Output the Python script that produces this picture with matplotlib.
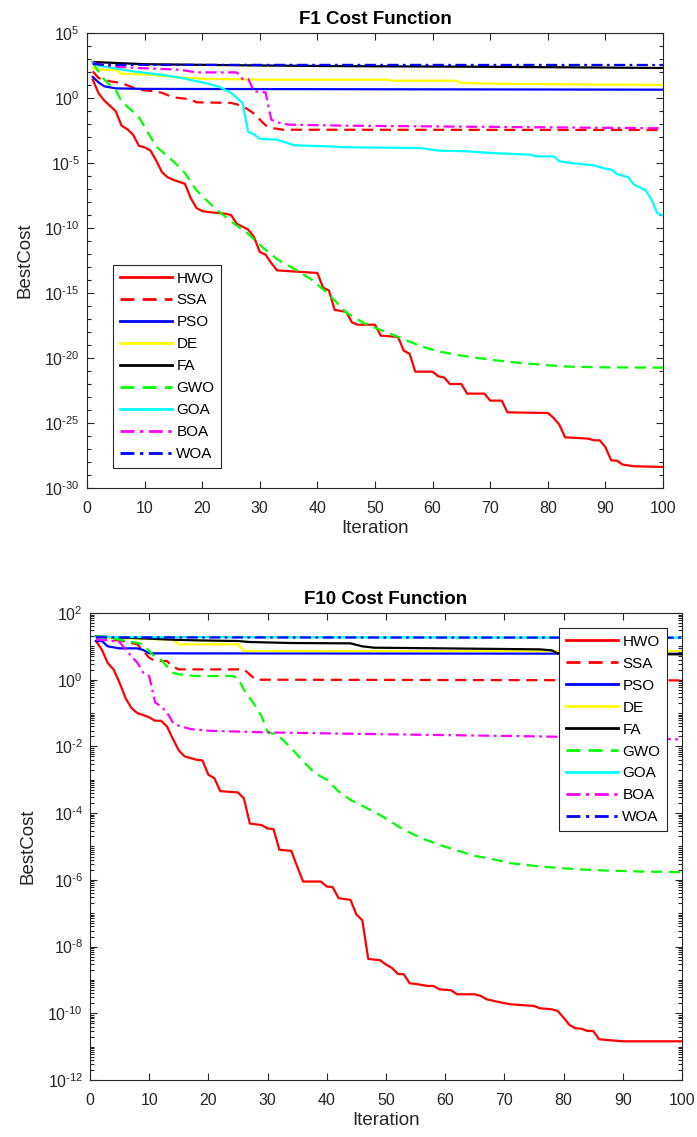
import numpy as np
import matplotlib
matplotlib.use("Agg")
import matplotlib.pyplot as plt
from matplotlib.ticker import FixedLocator, NullFormatter, MultipleLocator, FuncFormatter

plt.rcParams['font.family'] = ['Liberation Sans', 'DejaVu Sans']
plt.rcParams['axes.unicode_minus'] = False
plt.rcParams['mathtext.fontset'] = 'custom'
plt.rcParams['mathtext.rm'] = 'Liberation Sans'
plt.rcParams['mathtext.it'] = 'Liberation Sans'

algorithms = ["HWO", "SSA", "PSO", "DE", "FA", "GWO", "GOA", "BOA", "WOA"]

# ---------------- F1 data (iteration, log10 BestCost) ----------------
f1_hwo_it = [1, 2, 3, 4, 5, 6, 7, 8, 9, 10, 11, 12, 13, 14, 15, 16, 17, 18, 19, 20, 21, 24, 25, 26, 27, 28, 29, 30, 31, 32, 33,
             40, 41, 42, 43, 45, 46, 47, 50, 51, 54, 55, 56, 57, 60, 61, 62, 63, 65, 66, 69, 70, 72, 73, 80, 81, 82, 83,
             87, 88, 89, 90, 91, 92, 93, 95, 100]
f1_hwo_lg = [1.41, 0.38, -0.2, -0.6, -1.03, -2.13, -2.4, -2.82, -3.67, -3.8, -4.03, -4.8, -5.69, -6.1, -6.3, -6.45, -6.6,
             -7.69, -8.46, -8.7, -8.77, -8.9, -9.0, -9.67, -9.9, -10.13, -10.69, -11.85, -12.05, -12.7, -13.26,
             -13.46, -14.6, -14.8, -16.3, -16.45, -17.26, -17.44, -17.44, -18.28, -18.38, -19.44, -19.67, -21.05, -21.05,
             -21.41, -21.5, -22.0, -22.0, -22.74, -22.74, -23.28, -23.28, -24.18, -24.23, -24.6, -25.13, -26.1,
             -26.2, -26.33, -26.33, -26.85, -27.87, -27.9, -28.2, -28.33, -28.38]
f1_ssa_it = [1, 2, 4, 6, 8, 9, 12, 13, 15, 18, 19, 25, 27, 29, 31, 32, 34, 100]
f1_ssa_lg = [2.05, 1.54, 1.28, 1.15, 0.8, 0.64, 0.5, 0.4, 0.05, -0.1, -0.33, -0.38, -0.6, -1.2, -2.1, -2.3, -2.44, -2.46]
f1_pso_it = [1, 2, 3, 5, 10, 100]
f1_pso_lg = [1.62, 1.2, 0.9, 0.74, 0.7, 0.64]
f1_de_it = [1, 2, 5, 6, 11, 15, 20, 30, 52, 53, 64, 65, 70, 90, 100]
f1_de_lg = [2.3, 2.18, 2.15, 1.87, 1.79, 1.62, 1.48, 1.41, 1.41, 1.33, 1.33, 1.15, 1.1, 1.03, 1.01]
f1_fa_it = [1, 10, 30, 45, 70, 100]
f1_fa_lg = [2.77, 2.6, 2.5, 2.45, 2.4, 2.31]
f1_gwo_it = [1, 3, 5, 6, 9, 12, 15, 17, 19, 22, 25, 28, 30, 33, 36, 39, 42, 45, 48, 51, 54, 58, 61, 65, 70, 74, 80, 84, 90, 100]
f1_gwo_lg = [2.69, 1.41, 0.6, -0.26, -1.46, -3.72, -4.87, -5.77, -7.1, -8.4, -9.49, -10.45, -11.3, -12.4, -13.15, -13.97,
             -15.1, -16.5, -17.3, -17.85, -18.38, -19.1, -19.49, -19.82, -20.13, -20.33, -20.56, -20.67, -20.72, -20.74]
f1_goa_it = [1, 2, 8, 14, 17, 21, 23, 25, 27, 28, 29, 30, 33, 36, 42, 45, 58, 61, 66, 70, 77, 78, 81, 82, 84, 88, 90, 91,
             92, 94, 95, 97, 98, 99, 100]
f1_goa_lg = [2.74, 2.49, 2.05, 1.72, 1.49, 1.1, 0.85, 0.4, -0.38, -2.62, -2.8, -3.15, -3.21, -3.64, -3.72, -3.79, -3.85,
             -4.05, -4.1, -4.23, -4.36, -4.49, -4.49, -4.87, -5.0, -5.18, -5.44, -5.5, -5.85, -6.1, -6.67, -7.1, -7.82,
             -8.85, -9.03]
f1_boa_it = [1, 4, 9, 16, 19, 26, 27, 28, 29, 31, 32, 33, 35, 45, 100]
f1_boa_lg = [2.69, 2.44, 2.3, 2.18, 1.97, 1.97, 1.46, 1.46, 0.51, 0.44, -1.67, -1.87, -2.05, -2.13, -2.33]
f1_woa_it = [1, 3, 100]
f1_woa_lg = [2.62, 2.55, 2.54]

# ---------------- F10 data (iteration, log10 BestCost) ----------------
f10_hwo_it = [1, 2, 3, 4, 5, 6, 7, 8, 9, 10, 11, 12, 13, 14, 15, 16, 18, 19, 20, 21, 22, 25, 26, 27, 29, 30, 31, 32, 34,
              35, 36, 39, 40, 41, 42, 44, 45, 46, 47, 49, 50, 51, 52, 53, 54, 55, 57, 58, 59, 61, 62, 65, 66, 67, 69,
              71, 75, 76, 78, 79, 80, 81, 82, 83, 84, 85, 86, 88, 90, 100]
f10_hwo_lg = [1.16, 0.9, 0.5, 0.3, -0.09, -0.55, -0.85, -1.0, -1.06, -1.13, -1.23, -1.23, -1.4, -1.77, -2.12, -2.3, -2.4,
              -2.42, -2.85, -2.95, -3.34, -3.38, -3.56, -4.31, -4.36, -4.46, -4.48, -5.1, -5.13, -5.6, -6.05, -6.05,
              -6.2, -6.22, -6.55, -6.6, -7.04, -7.21, -8.37, -8.41, -8.54, -8.64, -8.82, -8.83, -9.1, -9.12, -9.18,
              -9.18, -9.28, -9.31, -9.43, -9.43, -9.48, -9.58, -9.66, -9.73, -9.78, -9.85, -9.88, -9.93, -10.13,
              -10.35, -10.45, -10.46, -10.53, -10.53, -10.78, -10.81, -10.84, -10.84]
f10_ssa_it = [1, 5, 8, 9, 10, 11, 13, 14, 15, 26, 28, 100]
f10_ssa_lg = [1.2, 1.18, 1.06, 0.86, 0.66, 0.56, 0.56, 0.39, 0.31, 0.31, 0.0, -0.02]
f10_pso_it = [1, 2, 3, 5, 8, 9, 10, 100]
f10_pso_lg = [1.16, 1.16, 1.0, 0.94, 0.94, 0.89, 0.79, 0.78]
f10_de_it = [1, 2, 14, 15, 25, 26, 100]
f10_de_lg = [1.29, 1.26, 1.2, 1.06, 1.06, 0.86, 0.86]
f10_fa_it = [1, 14, 18, 25, 27, 34, 44, 46, 48, 76, 78, 79, 100]
f10_fa_lg = [1.3, 1.2, 1.18, 1.16, 1.13, 1.1, 1.09, 1.0, 0.96, 0.91, 0.88, 0.79, 0.76]
f10_gwo_it = [1, 2, 5, 8, 9, 10, 11, 12, 13, 14, 15, 18, 24, 25, 26, 27, 28, 29, 30, 31, 32, 34, 36, 38, 40, 42, 44, 48,
              50, 53, 56, 59, 62, 65, 68, 71, 76, 82, 87, 93, 100]
f10_gwo_lg = [1.3, 1.29, 1.2, 1.1, 1.06, 0.86, 0.68, 0.6, 0.4, 0.21, 0.16, 0.11, 0.11, 0.05, -0.3, -0.55, -0.8, -1.1,
              -1.57, -1.62, -1.7, -2.05, -2.45, -2.8, -3.0, -3.35, -3.6, -3.96, -4.16, -4.5, -4.75, -4.95, -5.12,
              -5.28, -5.38, -5.5, -5.6, -5.68, -5.72, -5.75, -5.77]
f10_goa_it = [1, 100]
f10_goa_lg = [1.28, 1.26]
f10_boa_it = [1, 3, 5, 6, 8, 9, 10, 11, 12, 13, 14, 15, 17, 20, 30, 44, 76, 100]
f10_boa_lg = [1.2, 1.18, 1.13, 0.9, 0.51, 0.21, 0.11, -0.68, -0.8, -0.98, -1.28, -1.38, -1.48, -1.53, -1.58, -1.62,
              -1.7, -1.79]
f10_woa_it = [1, 100]
f10_woa_lg = [1.27, 1.26]

f1_data = [(f1_hwo_it, f1_hwo_lg), (f1_ssa_it, f1_ssa_lg), (f1_pso_it, f1_pso_lg), (f1_de_it, f1_de_lg),
           (f1_fa_it, f1_fa_lg), (f1_gwo_it, f1_gwo_lg), (f1_goa_it, f1_goa_lg), (f1_boa_it, f1_boa_lg),
           (f1_woa_it, f1_woa_lg)]
f10_data = [(f10_hwo_it, f10_hwo_lg), (f10_ssa_it, f10_ssa_lg), (f10_pso_it, f10_pso_lg), (f10_de_it, f10_de_lg),
            (f10_fa_it, f10_fa_lg), (f10_gwo_it, f10_gwo_lg), (f10_goa_it, f10_goa_lg), (f10_boa_it, f10_boa_lg),
            (f10_woa_it, f10_woa_lg)]

styles = [
    dict(color=(1, 0, 0), ls='-'),
    dict(color=(1, 0, 0), ls=(0, (5, 3))),
    dict(color=(0, 0, 1), ls='-'),
    dict(color=(1, 1, 0), ls='-'),
    dict(color=(0, 0, 0), ls='-'),
    dict(color=(0, 1, 0), ls=(0, (5, 3))),
    dict(color=(0, 1, 1), ls='-'),
    dict(color=(1, 0, 1), ls=(0, (5, 2, 1.2, 2))),
    dict(color=(0, 0, 1), ls=(0, (5, 2, 1.2, 2))),
]

axcol = (0.15, 0.15, 0.15)
W, H = 697, 1137
fig = plt.figure(figsize=(W / 100, H / 100), dpi=100)

ax1 = fig.add_axes([87 / W, 1 - 488 / H, (663 - 87) / W, (488 - 33) / H])
ax2 = fig.add_axes([90 / W, 1 - 1080 / H, (682 - 90) / W, (1080 - 613) / H])


def pow_label(v, pos):
    e = int(round(np.log10(v)))
    if e < 0:
        return r'$\mathdefault{10^{\text{-}%d}}$' % (-e)
    return r'$\mathdefault{10^{%d}}$' % e


def style_axes(ax, ylo, yhi, ystep, title, dense_minor):
    ax.set_yscale('log')
    ax.set_xlim(0, 100)
    ax.set_ylim(10.0 ** ylo, 10.0 ** yhi)
    ax.xaxis.set_major_locator(MultipleLocator(10))
    ax.yaxis.set_major_locator(FixedLocator([10.0 ** e for e in range(ylo, yhi + 1, ystep)]))
    ax.yaxis.set_major_formatter(FuncFormatter(pow_label))
    if not dense_minor:
        ax.yaxis.set_minor_locator(FixedLocator([10.0 ** e for e in range(ylo, yhi + 1) if (e - ylo) % ystep]))
    else:
        mins = []
        for e in range(ylo, yhi):
            for s in range(1, 10):
                if s == 1 and (e - ylo) % ystep == 0:
                    continue
                mins.append(s * 10.0 ** e)
        ax.yaxis.set_minor_locator(FixedLocator(mins))
    ax.yaxis.set_minor_formatter(NullFormatter())
    ax.tick_params(which='both', direction='in', top=True, right=True, colors=axcol, labelsize=11.5,
                   labelcolor=axcol, width=0.8)
    ax.tick_params(which='major', length=5)
    ax.tick_params(which='minor', length=3)
    ax.tick_params(axis='x', which='minor', length=0)
    ax.tick_params(axis='x', which='major', pad=9.5)
    ax.tick_params(axis='y', which='major', pad=5)
    for sp in ax.spines.values():
        sp.set_color(axcol)
        sp.set_linewidth(0.8)
    ax.set_title(title, fontsize=13.5, fontweight='bold', pad=6.5)
    ax.set_xlabel('Iteration', fontsize=13.5, color=axcol, labelpad=2.5)
    ax.set_ylabel('BestCost', fontsize=13.5, color=axcol, labelpad=8)


for ax, data in ((ax1, f1_data), (ax2, f10_data)):
    for name, (it, lg), st in zip(algorithms, data, styles):
        ax.semilogy(it, np.power(10.0, lg), color=st['color'], linestyle=st['ls'], linewidth=1.6, label=name)

style_axes(ax1, -30, 5, 5, 'F1 Cost Function', False)
style_axes(ax2, -12, 2, 2, 'F10 Cost Function', True)

leg_kw = dict(fontsize=11, frameon=True, fancybox=False, edgecolor=axcol, framealpha=1, handlelength=3.4,
              handletextpad=0.3, labelspacing=0.52, borderaxespad=0, borderpad=0.45)
l1 = ax1.legend(loc='lower left', bbox_to_anchor=(0.045, 0.044), **leg_kw)
l2 = ax2.legend(loc='upper right', bbox_to_anchor=(0.975, 0.968), **leg_kw)
for l in (l1, l2):
    l.get_frame().set_linewidth(0.8)
    for line in l.get_lines():
        line.set_linewidth(2.0)

fig.savefig('out.png', dpi=100)
